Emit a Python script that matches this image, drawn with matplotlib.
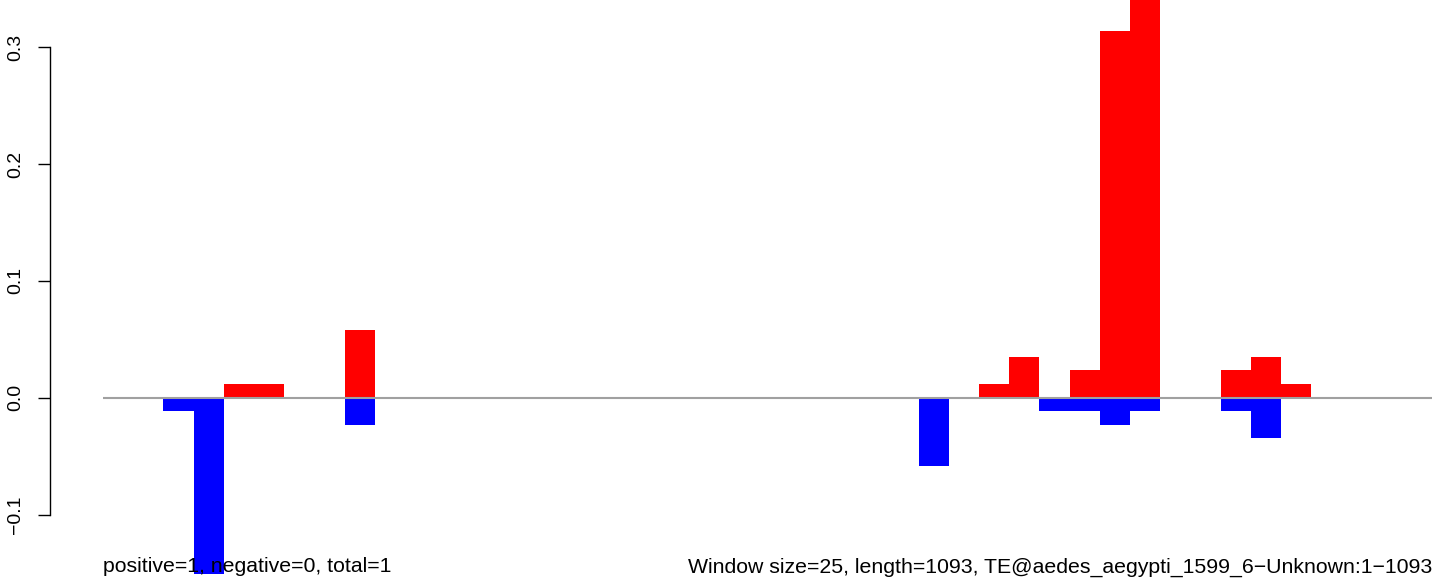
import numpy as np
import matplotlib
matplotlib.use("Agg")
import matplotlib.pyplot as plt

# window scores (one bar per 25-bp window), red = positive strand, blue = negative strand
n_windows = 44
pos_idx = [4, 5, 8, 29, 30, 32, 33, 34, 37, 38, 39]
pos_val = [0.0116, 0.0116, 0.0581, 0.0116, 0.0349, 0.0233, 0.3140, 0.3720, 0.0233, 0.0349, 0.0116]
neg_idx = [2, 3, 8, 27, 31, 32, 33, 34, 37, 38]
neg_val = [-0.0116, -0.1510, -0.0233, -0.0581, -0.0116, -0.0116, -0.0233, -0.0116, -0.0116, -0.0349]

yticks = [-0.1, 0.0, 0.1, 0.2, 0.3]
ytick_labels = ["\u22120.1", "0.0", "0.1", "0.2", "0.3"]
left_note = "positive=1, negative=0, total=1"
right_note = "Window size=25, length=1093, TE@aedes_aegypti_1599_6\u2212Unknown:1\u22121093"

plt.rcParams['font.family'] = ['Liberation Sans', 'DejaVu Sans']

W, H = 1444, 586
fig = plt.figure(figsize=(W / 100, H / 100), dpi=100)

# plot area in pixels
ax_left, ax_right = 50, 1432
ax = fig.add_axes([ax_left / W, 0, (ax_right - ax_left) / W, 1])

unit_px = (1432 - 103) / n_windows
x0 = -(103 - ax_left) / unit_px
ax.set_xlim(x0, n_windows)
y_zero_px = 397.7
px_per_unit = 1168.0
ax.set_ylim(-(H - y_zero_px) / px_per_unit, y_zero_px / px_per_unit)

ax.bar(pos_idx, pos_val, width=1.0, align='edge', color='#ff0000', linewidth=0, zorder=2)
ax.bar(neg_idx, neg_val, width=1.0, align='edge', color='#0000ff', linewidth=0, zorder=2)
ax.plot([0, n_windows], [0, 0], color='#a0a0a0', linewidth=1.5, zorder=3, solid_capstyle='butt')

for s in ['top', 'right', 'bottom']:
    ax.spines[s].set_visible(False)
ax.spines['left'].set_bounds(-0.1, 0.3)
ax.spines['left'].set_linewidth(1.0)
ax.set_xticks([])
ax.set_yticks(yticks)
ax.set_yticklabels(ytick_labels, rotation=90, va='center', fontsize=14)
ax.tick_params(axis='y', length=8.6, width=1.0, pad=10, direction='out')
ax.patch.set_alpha(0)

fig.text(103 / W, 1 - 567 / H, left_note, ha='left', va='center', fontsize=15.3, zorder=5)
fig.text(1432 / W, 1 - 567 / H, right_note, ha='right', va='center', fontsize=15.3, zorder=5)

fig.savefig("out.png", dpi=100, facecolor='white')
